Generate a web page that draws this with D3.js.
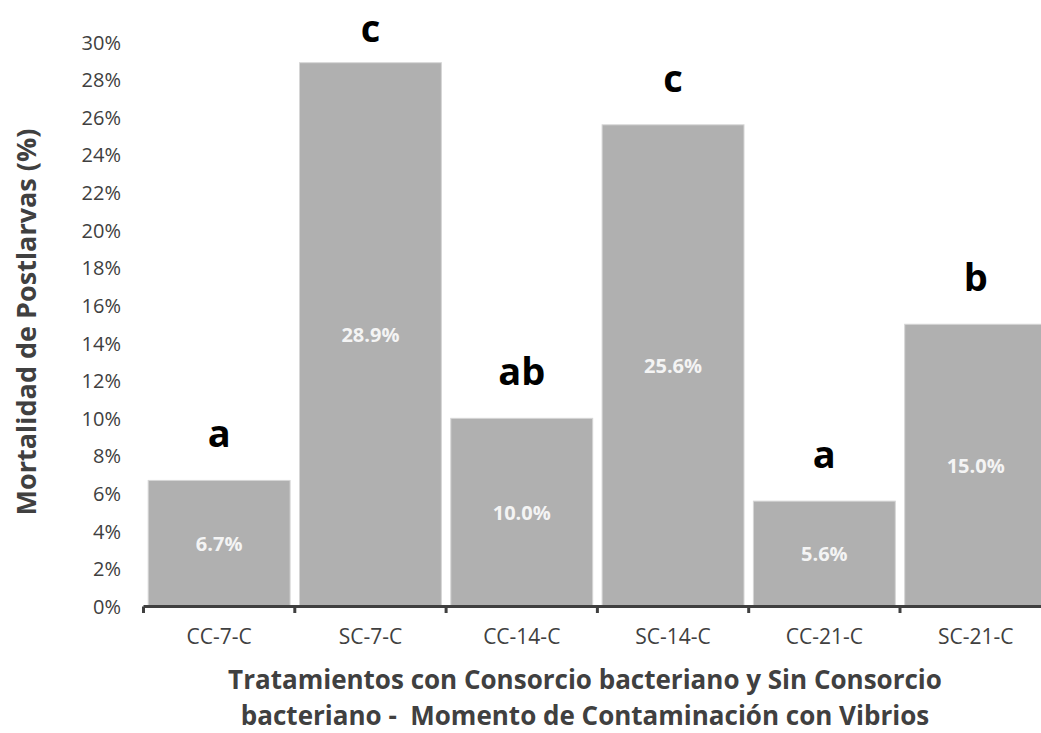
<!DOCTYPE html>
<html>
<head>
<meta charset="utf-8">
<script src="https://cdn.jsdelivr.net/npm/d3@7"></script>
<style>
  html, body { margin: 0; padding: 0; background: #fff; }
  svg { display: block; }
  text { font-family: "Open Sans", "DejaVu Sans", sans-serif; }
</style>
</head>
<body>
<svg id="chart" width="1041" height="733"></svg>
<script>
const categories = ["CC-7-C", "SC-7-C", "CC-14-C", "SC-14-C", "CC-21-C", "SC-21-C"];
const mortality = [6.7, 28.9, 10.0, 25.6, 5.6, 15.0];
const groups = ["a", "c", "ab", "c", "a", "b"];
const yTicks = [0, 2, 4, 6, 8, 10, 12, 14, 16, 18, 20, 22, 24, 26, 28, 30];
const yTitle = "Mortalidad de Postlarvas (%)";
const xTitleLines = ["Tratamientos con Consorcio bacteriano y Sin Consorcio",
                     "bacteriano -  Momento de Contaminación con Vibrios"];

const svg = d3.select("#chart");
const plot = { left: 143.5, right: 1051.3, top: 42, bottom: 606.5 };

const x = d3.scaleBand().domain(categories)
  .range([plot.left, plot.right]).paddingInner(0.062).paddingOuter(0.031);
const y = d3.scaleLinear().domain([0, 30]).range([plot.bottom, plot.top]);

const textColor = "#404040";

// y tick labels
svg.append("g").selectAll("text").data(yTicks).join("text")
  .attr("x", 121).attr("y", d => y(d))
  .attr("text-anchor", "end").attr("dominant-baseline", "central")
  .attr("font-size", 20).attr("fill", textColor)
  .text(d => d + "%");

// bars
const data = categories.map((c, i) => ({ c, v: mortality[i], g: groups[i] }));
svg.append("g").selectAll("rect").data(data).join("rect")
  .attr("x", d => x(d.c)).attr("width", x.bandwidth())
  .attr("y", d => y(d.v)).attr("height", d => y(0) - y(d.v))
  .attr("fill", "#b0b0b0").attr("stroke", "#d6d6d6").attr("stroke-width", 1);

// value labels
svg.append("g").selectAll("text").data(data).join("text")
  .attr("x", d => x(d.c) + x.bandwidth() / 2)
  .attr("y", d => (y(d.v) + y(0)) / 2)
  .attr("text-anchor", "middle").attr("dominant-baseline", "central")
  .attr("font-size", 20).attr("font-weight", "bold").attr("fill", "#f4f4f4")
  .text(d => d.v.toFixed(1) + "%");

// group letters
svg.append("g").selectAll("text").data(data).join("text")
  .attr("x", d => x(d.c) + x.bandwidth() / 2)
  .attr("y", d => Math.max(y(d.v) - 33, 42))
  .attr("text-anchor", "middle")
  .attr("font-size", 38).attr("font-weight", "bold").attr("fill", "#000")
  .text(d => d.g);

// x axis line and ticks
const step = x.step();
const half = step * x.paddingInner() / 2;
const boundaries = categories.map(c => x(c) - half).concat([x(categories[categories.length - 1]) + x.bandwidth() + half]);
svg.append("line")
  .attr("x1", plot.left).attr("x2", plot.right)
  .attr("y1", y(0)).attr("y2", y(0))
  .attr("stroke", textColor).attr("stroke-width", 3.2);
svg.append("g").selectAll("line").data(boundaries).join("line")
  .attr("x1", d => d).attr("x2", d => d)
  .attr("y1", y(0)).attr("y2", y(0) + 6.5)
  .attr("stroke", textColor).attr("stroke-width", 3);

// x tick labels
svg.append("g").selectAll("text").data(categories).join("text")
  .attr("x", d => x(d) + x.bandwidth() / 2).attr("y", 636)
  .attr("text-anchor", "middle").attr("dominant-baseline", "central")
  .attr("font-size", 21).attr("fill", textColor)
  .text(d => d);

// axis titles
svg.append("text")
  .attr("transform", "translate(25,322) rotate(-90)")
  .attr("text-anchor", "middle").attr("dominant-baseline", "central")
  .attr("font-size", 27).attr("font-weight", "bold").attr("fill", textColor)
  .text(yTitle);

svg.append("g").selectAll("text").data(xTitleLines).join("text")
  .attr("x", 585).attr("y", (d, i) => 689 + i * 36)
  .attr("text-anchor", "middle")
  .style("white-space", "pre")
  .attr("font-size", 26).attr("font-weight", "bold").attr("fill", textColor)
  .text(d => d);
</script>
</body>
</html>
